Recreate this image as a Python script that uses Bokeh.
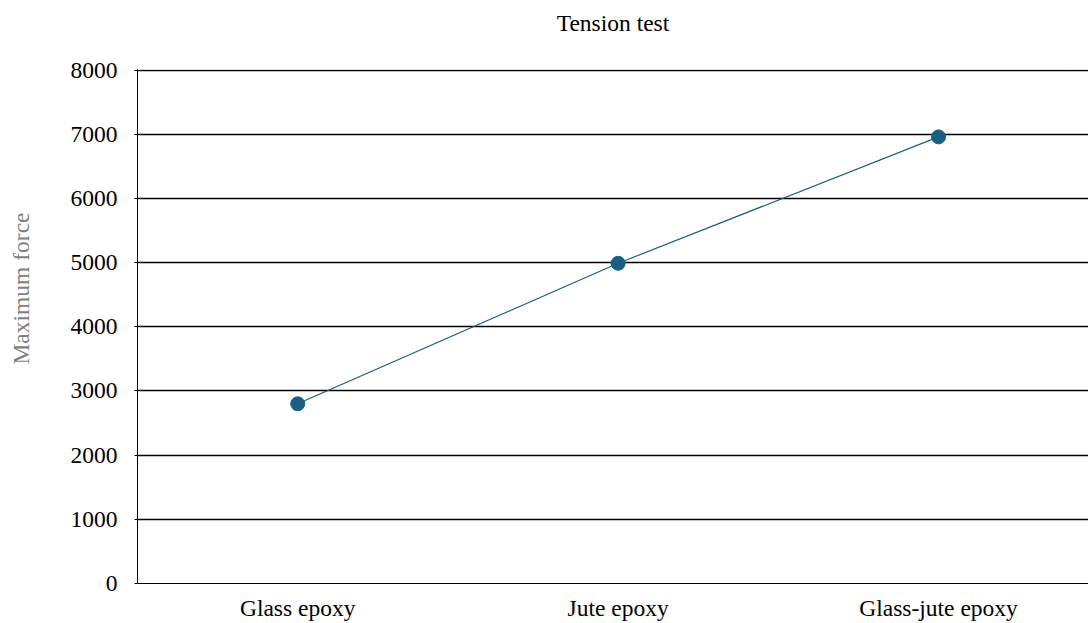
from bokeh.plotting import figure
from bokeh.models import (Range1d, FixedTicker, ColumnDataSource, Title,
                          LinearAxis)
from bokeh.embed import file_html
from bokeh.resources import INLINE

# Tension test results per composite
materials = ["Glass epoxy", "Jute epoxy", "Glass-jute epoxy"]
max_force = [2800, 4990, 6960]
y_ticks = [0, 1000, 2000, 3000, 4000, 5000, 6000, 7000, 8000]
y_title = "Maximum force"

positions = list(range(len(materials)))
source = ColumnDataSource(data=dict(x=positions, y=max_force, name=materials))

SERIF = "Liberation Serif"
FS = "23.5px"
LINE_COLOR = "#1b5f80"

p = figure(
    width=1088, height=623,
    x_range=Range1d(-0.5, 2.468), y_range=Range1d(0, 8010),
    output_backend="svg", toolbar_location=None,
    min_border_left=137, min_border_right=0,
    min_border_top=69, min_border_bottom=40,
    title="Tension test",
)
p.outline_line_color = None
p.background_fill_color = "white"
p.border_fill_color = "white"

p.title.align = "center"
p.title.text_font = SERIF
p.title.text_font_size = FS
p.title.text_font_style = "normal"
p.title.text_color = "black"
p.title.standoff = 0

# x axis: category names at integer positions
p.xaxis.ticker = FixedTicker(ticks=positions)
p.xaxis.major_label_overrides = {i: m for i, m in enumerate(materials)}
p.xaxis.major_tick_line_color = None
p.xaxis.minor_tick_line_color = None
p.xaxis.axis_line_color = "black"
p.xaxis.axis_line_width = 1
p.xaxis.major_label_text_font = SERIF
p.xaxis.major_label_text_font_size = FS
p.xaxis.major_label_text_color = "black"
p.xaxis.major_label_standoff = 5

# y axis
p.yaxis.ticker = FixedTicker(ticks=y_ticks)
p.yaxis.axis_line_color = "black"
p.yaxis.axis_line_width = 1
p.yaxis.major_tick_line_color = "black"
p.yaxis.major_tick_in = 0
p.yaxis.major_tick_out = 3
p.yaxis.minor_tick_line_color = None
p.yaxis.major_label_text_font = SERIF
p.yaxis.major_label_text_font_size = FS
p.yaxis.major_label_text_color = "black"
p.yaxis.major_label_standoff = 17

p.xgrid.grid_line_color = None
p.ygrid.grid_line_color = "black"
p.ygrid.grid_line_width = 1.5


def spacer_axis(gap, at):
    """A blank axis (white tick, no line, no label) reserving `gap` pixels."""
    return LinearAxis(ticker=FixedTicker(ticks=[at]), axis_line_color=None,
                      major_tick_line_color="white", minor_tick_line_color=None,
                      major_tick_in=0, major_tick_out=gap,
                      major_label_text_color=None)


# room between the frame and the chart title
p.add_layout(spacer_axis(34, 2.4), "above")

# room between the tick labels and the y title, then the y title itself
p.add_layout(spacer_axis(34, 0), "left")
p.add_layout(Title(text=y_title, align="right", offset=143, standoff=0,
                   text_font=SERIF, text_font_size=FS,
                   text_font_style="normal", text_color="#7f7f7f"), "left")

p.line("x", "y", source=source, line_color=LINE_COLOR, line_width=1.2)
p.scatter("x", "y", source=source, size=14, fill_color=LINE_COLOR,
          line_color=LINE_COLOR)

open("out.html", "w").write(file_html(p, INLINE))
